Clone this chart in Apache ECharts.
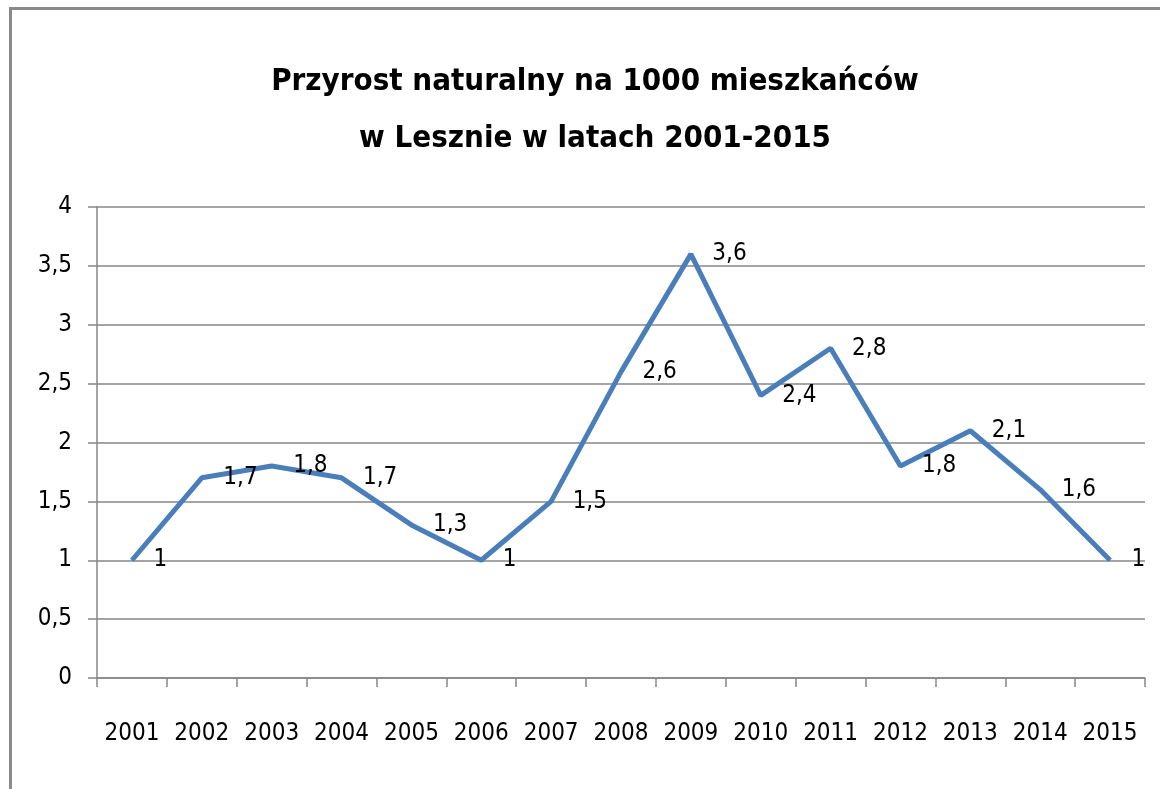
<!DOCTYPE html>
<html>
<head>
<meta charset="utf-8">
<script src="https://cdn.jsdelivr.net/npm/echarts@6/dist/echarts.min.js"></script>
<style>
  html, body { margin: 0; padding: 0; background: #fff; }
  #char { width: 1160px; height: 789px; }
</style>
</head>
<body>
<div id="char"></div>
<script>
const years = ['2001', '2002', '2003', '2004', '2005', '2006', '2007', '2008', '2009', '2010', '2011', '2012', '2013', '2014', '2015']
const przyrost = [1, 1.7, 1.8, 1.7, 1.3, 1, 1.5, 2.6, 3.6, 2.4, 2.8, 1.8, 2.1, 1.6, 1]
const yTicks = [0, 0.5, 1, 1.5, 2, 2.5, 3, 3.5, 4]

const font = '"Liberation Sans Narrow", "DejaVu Sans Condensed", sans-serif'
const plPl = v => String(v).replace('.', ',')

let myChart = echarts.init(document.getElementById('char'))
let option = {
  animation: false,
  backgroundColor: '#fff',
  title: {
    text: 'Przyrost naturalny na 1000 mieszkańców\nw Lesznie w latach 2001-2015',
    left: 590,
    top: 48,
    textAlign: 'center',
    textStyle: {
      fontFamily: font,
      fontSize: 31,
      fontWeight: 'bold',
      color: '#000',
      lineHeight: 57
    }
  },
  graphic: [
    {
      type: 'rect',
      shape: { x: 10.5, y: 8.5, width: 1300, height: 900 },
      style: { fill: 'none', stroke: '#8a8a8a', lineWidth: 3 },
      silent: true
    }
  ],
  grid: {
    left: 97,
    right: 15,
    top: 207,
    bottom: 111
  },
  xAxis: {
    type: 'category',
    data: years,
    boundaryGap: true,
    axisLine: { lineStyle: { color: '#878787', width: 1.5 } },
    axisTick: { show: true, length: 9, lineStyle: { color: '#878787', width: 1.5 } },
    axisLabel: {
      color: '#000',
      fontFamily: font,
      fontSize: 24,
      margin: 44,
      interval: 0
    }
  },
  yAxis: {
    type: 'value',
    min: yTicks[0],
    max: yTicks[yTicks.length - 1],
    interval: 0.5,
    axisLine: { show: true, lineStyle: { color: '#878787', width: 1.5 } },
    axisTick: { show: true, length: 9, lineStyle: { color: '#878787', width: 1.5 } },
    axisLabel: {
      color: '#000',
      fontFamily: font,
      fontSize: 24,
      margin: 25,
      formatter: v => plPl(v)
    },
    splitLine: { lineStyle: { color: '#878787', width: 1.5 } }
  },
  series: [
    {
      name: 'Przyrost naturalny',
      type: 'line',
      data: przyrost,
      symbol: 'circle',
      symbolSize: 1,
      showSymbol: true,
      lineStyle: { color: '#4a7ebb', width: 5 },
      itemStyle: { color: '#4a7ebb' },
      label: {
        show: true,
        position: 'right',
        distance: 21,
        color: '#000',
        fontFamily: font,
        fontSize: 24,
        formatter: p => plPl(p.value)
      }
    }
  ]
}
myChart.setOption(option)
</script>
</body>
</html>
